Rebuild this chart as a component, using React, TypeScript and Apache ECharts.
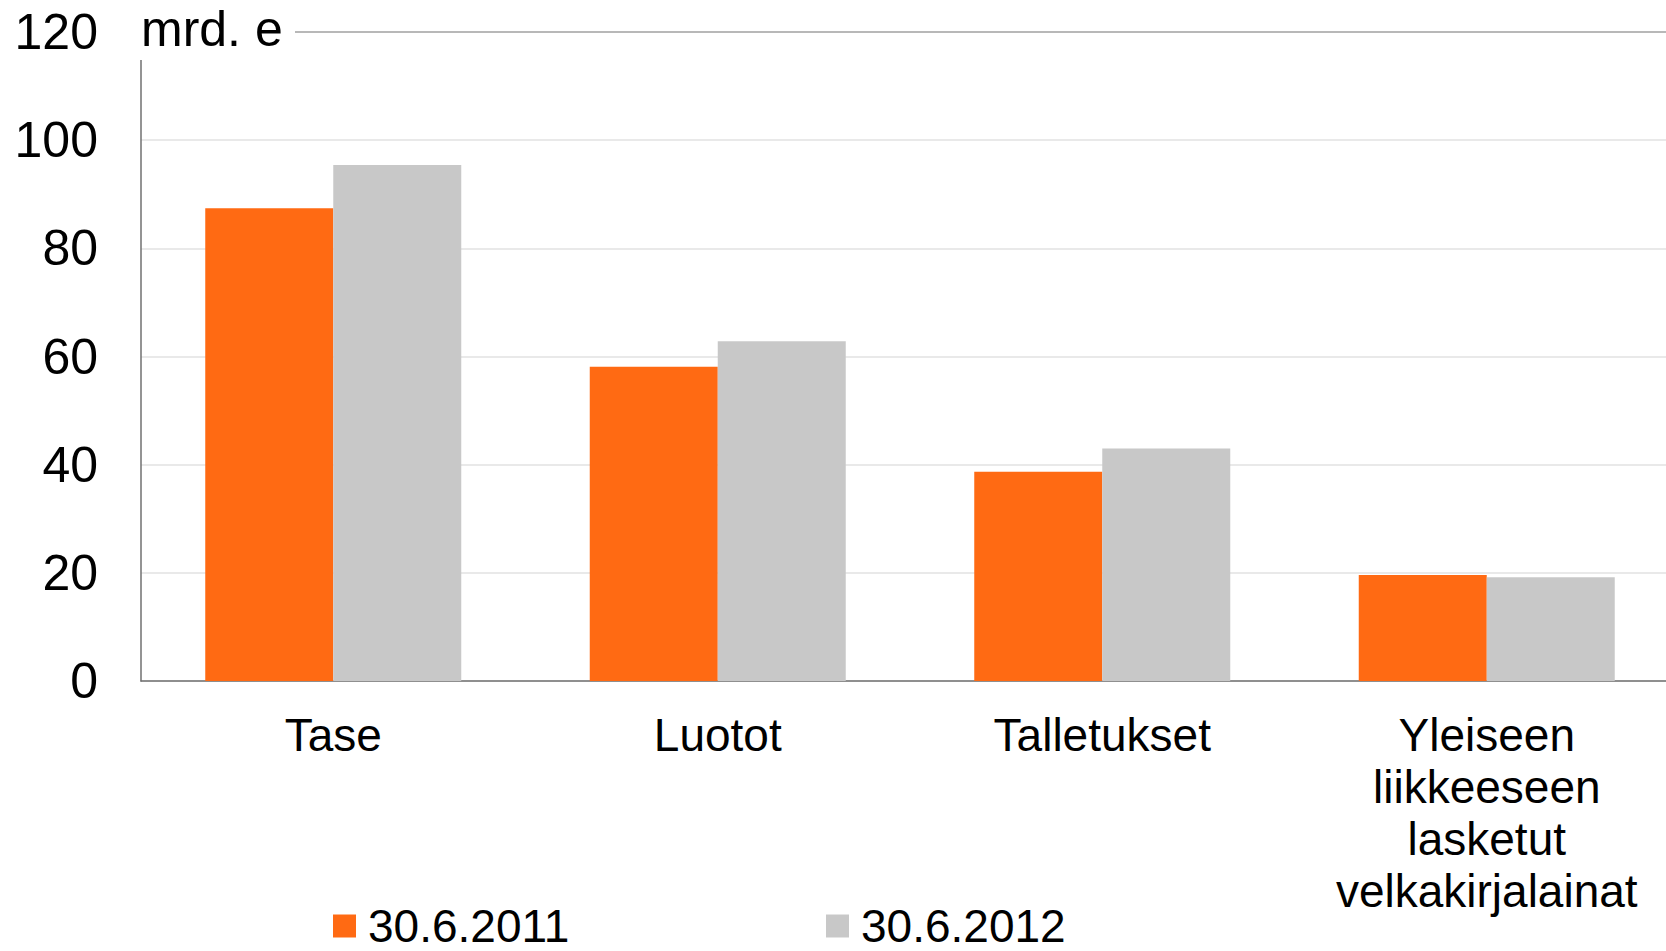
import React, { useEffect, useRef } from "react";
import * as echarts from "echarts";

const categories = ["Tase", "Luotot", "Talletukset", "Yleiseen\nliikkeeseen\nlasketut\nvelkakirjalainat"];
const seriesNames = ["30.6.2011", "30.6.2012"];
const values2011 = [87.4, 58.1, 38.7, 19.6];
const values2012 = [95.4, 62.8, 43.0, 19.2];
const yTicks = { min: 0, max: 120, interval: 20 };
const unitLabel = "mrd. e";

const FONT = "'Liberation Sans', Arial, sans-serif";

export default function App() {
  const ref = useRef<HTMLDivElement>(null);
  useEffect(() => {
    document.body.style.margin = "0";
    const chart = echarts.init(ref.current!, null, { renderer: "svg" });
    chart.setOption({
      animation: false,
      backgroundColor: "#ffffff",
      textStyle: { fontFamily: FONT },
      grid: {
        left: 141,
        width: 1538,
        top: 32,
        height: 649,
        containLabel: false,
        outerBoundsMode: "none",
      },
      legend: [
        {
          data: [seriesNames[0]],
          left: 328,
          top: 898,
          icon: "rect",
          itemWidth: 23,
          itemHeight: 23,
          textStyle: { fontSize: 46, color: "#000", fontFamily: FONT, lineHeight: 38, padding: [0, 0, 0, 7] },
        },
        {
          data: [seriesNames[1]],
          left: 821,
          top: 898,
          icon: "rect",
          itemWidth: 23,
          itemHeight: 23,
          textStyle: { fontSize: 46, color: "#000", fontFamily: FONT, lineHeight: 38, padding: [0, 0, 0, 7] },
        },
      ],
      xAxis: [
        {
          type: "category",
          data: categories,
          axisLine: { show: true, lineStyle: { color: "#707070", width: 1.5 } },
          axisTick: { show: false },
          axisLabel: {
            interval: 0,
            fontSize: 46,
            lineHeight: 52,
            color: "#000",
            fontFamily: FONT,
            margin: 28,
          },
        },
        {
          type: "category",
          data: categories,
          position: "top",
          axisLine: { show: true, lineStyle: { color: "#b8b8b8", width: 2 } },
          axisTick: { show: false },
          axisLabel: { show: false },
        },
      ],
      yAxis: {
        type: "value",
        min: yTicks.min,
        max: yTicks.max,
        interval: yTicks.interval,
        axisLine: { show: true, lineStyle: { color: "#707070", width: 1.5 } },
        axisTick: { show: false },
        axisLabel: { fontSize: 50, color: "#000", fontFamily: FONT, margin: 43 },
        splitLine: { show: true, lineStyle: { color: "#e2e2e2", width: 1.5 } },
      },
      series: [
        {
          name: seriesNames[0],
          type: "bar",
          data: values2011,
          barWidth: 128,
          barGap: "0%",
          itemStyle: { color: "#ff6a13" },
        },
        {
          name: seriesNames[1],
          type: "bar",
          data: values2012,
          barWidth: 128,
          barGap: "0%",
          itemStyle: { color: "#c8c8c8" },
        },
      ],
      graphic: [
        {
          type: "rect",
          z: 100,
          shape: { x: 138, y: 0, width: 157, height: 60 },
          style: { fill: "#ffffff" },
        },
        {
          type: "text",
          z: 101,
          x: 141,
          y: 29,
          style: {
            text: unitLabel,
            fontSize: 50,
            fontFamily: FONT,
            fill: "#000",
            verticalAlign: "middle",
            align: "left",
          },
        },
      ],
    });
    return () => chart.dispose();
  }, []);
  return <div ref={ref} style={{ width: 1666, height: 951 }} />;
}
